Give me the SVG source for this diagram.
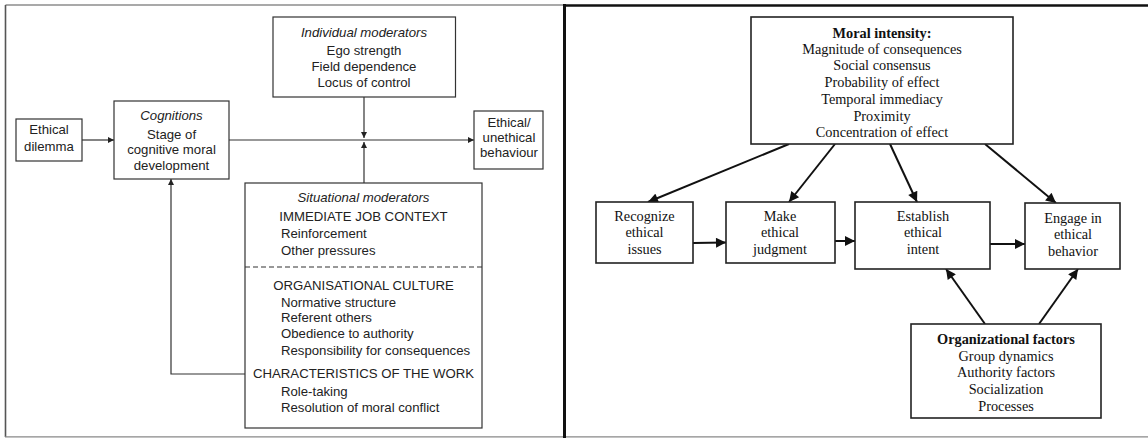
<svg xmlns="http://www.w3.org/2000/svg" width="1148" height="438" viewBox="0 0 1148 438">
<defs>
<style>
.lbox{fill:#fff;stroke:#333;stroke-width:1.2}
.lt{font-family:"Liberation Sans",Arial,sans-serif;font-size:13.2px;fill:#222}
.lm{text-anchor:middle}
.it{font-style:italic}
.lc{fill:none;stroke:#333;stroke-width:1.2}
.rbox{fill:#fff;stroke:#222;stroke-width:1.6}
.rt{font-family:"Liberation Serif","Times New Roman",serif;font-size:14.3px;fill:#111;text-anchor:middle}
.b{font-weight:bold}
.rc{fill:none;stroke:#111;stroke-width:2}
</style>
<marker id="la" viewBox="0 0 10 10" refX="10" refY="5" markerWidth="8" markerHeight="6" markerUnits="userSpaceOnUse" orient="auto"><path d="M0,0 L10,5 L0,10 z" fill="#222"/></marker>
<marker id="ra" viewBox="0 0 10 10" refX="10" refY="5" markerWidth="12" markerHeight="10" markerUnits="userSpaceOnUse" orient="auto"><path d="M0,0 L10,5 L0,10 z" fill="#111"/></marker>
</defs>
<rect width="1148" height="438" fill="#fff"/>
<g id="frame">
<line x1="5.5" y1="5" x2="564" y2="5" stroke="#555" stroke-width="1.2"/>
<line x1="5.5" y1="5" x2="5.5" y2="437" stroke="#555" stroke-width="1.6"/>
<line x1="5" y1="436.8" x2="1148" y2="436.8" stroke="#888" stroke-width="1.2"/>
<line x1="564.5" y1="4" x2="564.5" y2="438" stroke="#111" stroke-width="3"/>
<line x1="563" y1="5.5" x2="1148" y2="5.5" stroke="#111" stroke-width="2.6"/>
</g>
<g id="connectors">
<line class="lc" x1="82" y1="140" x2="114" y2="140" marker-end="url(#la)"/>
<line class="lc" x1="229" y1="140" x2="474" y2="140" marker-end="url(#la)"/>
<line class="lc" x1="364" y1="97" x2="364" y2="138" marker-end="url(#la)"/>
<line class="lc" x1="364" y1="183" x2="364" y2="142" marker-end="url(#la)"/>
<polyline class="lc" points="245,374 171,374 171,179" marker-end="url(#la)"/>
<line class="rc" x1="789" y1="144" x2="648" y2="202" marker-end="url(#ra)"/>
<line class="rc" x1="835" y1="144" x2="789" y2="202" marker-end="url(#ra)"/>
<line class="rc" x1="890" y1="144" x2="917" y2="202" marker-end="url(#ra)"/>
<line class="rc" x1="985" y1="144" x2="1056" y2="203" marker-end="url(#ra)"/>
<line class="rc" x1="693" y1="243" x2="726" y2="242.5" marker-end="url(#ra)"/>
<line class="rc" x1="835" y1="241" x2="855" y2="241" marker-end="url(#ra)"/>
<line class="rc" x1="990" y1="244" x2="1025" y2="244" marker-end="url(#ra)"/>
<line class="rc" x1="985" y1="324" x2="946" y2="269" marker-end="url(#ra)"/>
<line class="rc" x1="1039" y1="324" x2="1078" y2="269" marker-end="url(#ra)"/>
</g>
<g id="ethical-dilemma">
<rect class="lbox" x="16" y="119" width="66" height="42"/>
<text class="lt lm" x="49" y="134">Ethical</text>
<text class="lt lm" x="49" y="151">dilemma</text>
</g>
<g id="cognitions">
<rect class="lbox" x="114" y="101" width="115" height="78"/>
<text class="lt lm it" x="171.5" y="120">Cognitions</text>
<text class="lt lm" x="171.5" y="139">Stage of</text>
<text class="lt lm" x="171.5" y="154">cognitive moral</text>
<text class="lt lm" x="171.5" y="170">development</text>
</g>
<g id="individual-moderators">
<rect class="lbox" x="273" y="17" width="182.5" height="80"/>
<text class="lt lm it" x="364" y="37">Individual moderators</text>
<text class="lt lm" x="364" y="55">Ego strength</text>
<text class="lt lm" x="364" y="71">Field dependence</text>
<text class="lt lm" x="364" y="87">Locus of control</text>
</g>
<g id="ethical-behaviour">
<rect class="lbox" x="474" y="111" width="69" height="58"/>
<text class="lt lm" x="509" y="127">Ethical/</text>
<text class="lt lm" x="509" y="142">unethical</text>
<text class="lt lm" x="509" y="157">behaviour</text>
</g>
<g id="situational-moderators">
<rect class="lbox" x="245" y="183" width="237" height="245"/>
<line x1="245" y1="267" x2="482" y2="267" stroke="#333" stroke-width="1.2" stroke-dasharray="5,3"/>
<text class="lt lm it" x="363.5" y="202">Situational moderators</text>
<text class="lt lm" x="363.5" y="221">IMMEDIATE JOB CONTEXT</text>
<text class="lt" x="281" y="238">Reinforcement</text>
<text class="lt" x="281" y="255">Other pressures</text>
<text class="lt lm" x="363.5" y="290">ORGANISATIONAL CULTURE</text>
<text class="lt" x="281" y="307">Normative structure</text>
<text class="lt" x="281" y="322">Referent others</text>
<text class="lt" x="281" y="338">Obedience to authority</text>
<text class="lt" x="281" y="355">Responsibility for consequences</text>
<text class="lt lm" x="363.5" y="378">CHARACTERISTICS OF THE WORK</text>
<text class="lt" x="281" y="396">Role-taking</text>
<text class="lt" x="281" y="412">Resolution of moral conflict</text>
</g>
<g id="moral-intensity">
<rect class="rbox" x="751" y="17" width="262" height="127"/>
<text class="rt b" x="882" y="38">Moral intensity:</text>
<text class="rt" x="882" y="54">Magnitude of consequences</text>
<text class="rt" x="882" y="70">Social consensus</text>
<text class="rt" x="882" y="87">Probability of effect</text>
<text class="rt" x="882" y="104">Temporal immediacy</text>
<text class="rt" x="882" y="121">Proximity</text>
<text class="rt" x="882" y="137">Concentration of effect</text>
</g>
<g id="recognize">
<rect class="rbox" x="596" y="202" width="97" height="61"/>
<text class="rt" x="644.5" y="221">Recognize</text>
<text class="rt" x="644.5" y="237">ethical</text>
<text class="rt" x="644.5" y="254">issues</text>
</g>
<g id="make-judgment">
<rect class="rbox" x="726" y="202" width="109" height="61"/>
<text class="rt" x="780" y="221">Make</text>
<text class="rt" x="780" y="237">ethical</text>
<text class="rt" x="780" y="254">judgment</text>
</g>
<g id="establish-intent">
<rect class="rbox" x="855" y="202" width="135" height="67"/>
<text class="rt" x="923" y="221">Establish</text>
<text class="rt" x="923" y="237">ethical</text>
<text class="rt" x="923" y="254">intent</text>
</g>
<g id="engage-behavior">
<rect class="rbox" x="1025" y="203" width="95" height="66"/>
<text class="rt" x="1073" y="223">Engage in</text>
<text class="rt" x="1073" y="239">ethical</text>
<text class="rt" x="1073" y="256">behavior</text>
</g>
<g id="organizational-factors">
<rect class="rbox" x="911" y="324" width="190" height="94"/>
<text class="rt b" x="1006" y="344">Organizational factors</text>
<text class="rt" x="1006" y="361">Group dynamics</text>
<text class="rt" x="1006" y="377">Authority factors</text>
<text class="rt" x="1006" y="394">Socialization</text>
<text class="rt" x="1006" y="411">Processes</text>
</g>
</svg>
